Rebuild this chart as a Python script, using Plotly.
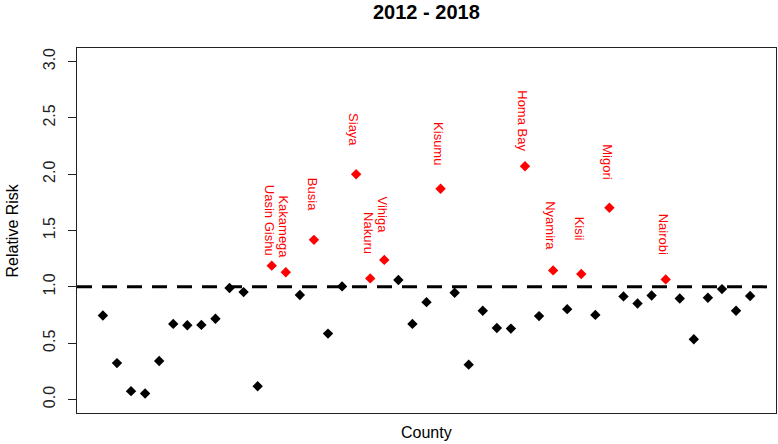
import plotly.graph_objects as go

counties = list(range(1, 48))
relative_risk = [0.745, 0.323, 0.074, 0.053, 0.341, 0.671, 0.659, 0.662, 0.716, 0.989,
                 0.953, 0.118, 1.188, 1.129, 0.927, 1.417, 0.585, 1.004, 1.999, 1.075,
                 1.239, 1.061, 0.671, 0.864, 1.871, 0.947, 0.309, 0.787, 0.635, 0.629,
                 2.070, 0.740, 1.146, 0.802, 1.114, 0.751, 1.702, 0.915, 0.852, 0.923,
                 1.066, 0.897, 0.535, 0.903, 0.980, 0.787, 0.918]
highlight_names = {13: "Uasin Gishu", 14: "Kakamega", 16: "Busia", 19: "Siaya",
                   20: "Nakuru", 21: "Vihiga", 25: "Kisumu", 31: "Homa Bay",
                   33: "Nyamira", 35: "Kisii", 37: "Migori", 41: "Nairobi"}
y_ticks = [0.0, 0.5, 1.0, 1.5, 2.0, 2.5, 3.0]
y_tick_labels = ["0.0", "0.5", "1.0", "1.5", "2.0", "2.5", "3.0"]
reference_level = 1.0
label_offset = 0.4

FONT = "Liberation Sans, Arial, sans-serif"

colors = ["#ff0000" if c in highlight_names else "#000000" for c in counties]

fig = go.Figure()
fig.add_trace(go.Scatter(
    x=counties, y=relative_risk, mode="markers",
    marker=dict(symbol="diamond", size=8, color=colors, line=dict(width=0)),
    showlegend=False, hoverinfo="skip"))

fig.add_shape(type="line", xref="paper", yref="y", x0=0, x1=1,
              y0=reference_level, y1=reference_level,
              line=dict(color="#000000", width=3, dash="15px,10px"))

annotations = []
for c, name in highlight_names.items():
    annotations.append(dict(
        x=c, y=relative_risk[c - 1] + label_offset, xref="x", yref="y",
        text=name, showarrow=False, textangle=90, xanchor="center", yanchor="middle",
        xshift=-2, font=dict(family=FONT, size=13, color="#ff0000")))

annotations.append(dict(x=0.5, y=1, xref="paper", yref="paper", yshift=36,
                        text="<b>2012 - 2018</b>", showarrow=False,
                        xanchor="center", yanchor="middle",
                        font=dict(family=FONT, size=20, color="#000000")))
annotations.append(dict(x=0.5, y=0, xref="paper", yref="paper", yshift=-19,
                        text="County", showarrow=False,
                        xanchor="center", yanchor="middle",
                        font=dict(family=FONT, size=16, color="#000000")))
annotations.append(dict(x=0, y=0.5, xref="paper", yref="paper", xshift=-65,
                        text="Relative Risk", showarrow=False, textangle=-90,
                        xanchor="center", yanchor="middle",
                        font=dict(family=FONT, size=16, color="#000000")))

fig.update_layout(
    width=778, height=444,
    margin=dict(l=77, r=2, t=48, b=31),
    paper_bgcolor="white", plot_bgcolor="white",
    annotations=annotations,
    xaxis=dict(range=[-0.84, 48.84], showticklabels=False, ticks="",
               showgrid=False, zeroline=False, showline=True, mirror=True,
               linecolor="#222222", linewidth=1),
    yaxis=dict(range=[-0.12, 3.12], tickvals=y_ticks, ticktext=y_tick_labels,
               tickangle=-90, ticks="outside", ticklen=8, tickcolor="#222222",
               tickfont=dict(family=FONT, size=16, color="#222222"),
               showgrid=False, zeroline=False, showline=True, mirror=True,
               linecolor="#222222", linewidth=1, ticklabelstandoff=7),
)

fig.write_html("out.html", config={"displayModeBar": False},
               post_script="document.body.style.margin='0';document.body.style.overflow='hidden';")
